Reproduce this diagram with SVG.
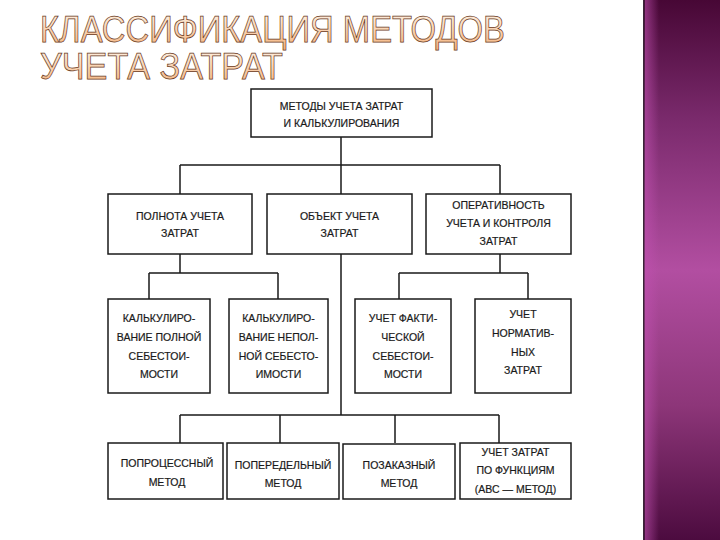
<svg xmlns="http://www.w3.org/2000/svg" width="720" height="540" viewBox="0 0 720 540">
<defs>
<linearGradient id="bar" x1="0" y1="0" x2="0" y2="1">
<stop offset="0" stop-color="#470735"/>
<stop offset="0.22" stop-color="#7a2a6c"/>
<stop offset="0.5" stop-color="#b24ea1"/>
<stop offset="0.75" stop-color="#8d3679"/>
<stop offset="1" stop-color="#4c0b3f"/>
</linearGradient>
<linearGradient id="edge" x1="0" y1="0" x2="1" y2="0">
<stop offset="0" stop-color="#c050b0" stop-opacity="0.6"/>
<stop offset="1" stop-color="#c050b0" stop-opacity="0"/>
</linearGradient>
<linearGradient id="ttl" x1="0" y1="0" x2="0" y2="1">
<stop offset="0" stop-color="#fff7ec"/>
<stop offset="1" stop-color="#f4b07a"/>
</linearGradient>
<style>
.box{fill:#fff;stroke:#1a1a1a;stroke-width:1.5}
.ln{fill:none;stroke:#1a1a1a;stroke-width:1.5}
.t{font-family:"Liberation Sans",Arial,sans-serif;font-size:10.5px;fill:#1a1a1a;stroke:#1a1a1a;stroke-width:0.2;text-anchor:middle}
.title{font-family:"Liberation Sans",Arial,sans-serif;font-size:37px;fill:url(#ttl);stroke:#6a3a1c;stroke-width:0.75}
</style>
</defs>
<rect width="720" height="540" fill="#ffffff"/>
<g id="sidebar">
<rect x="643" y="0" width="77" height="540" fill="url(#bar)"/>
<rect x="645" y="0" width="14" height="540" fill="url(#edge)"/>
<rect x="643" y="0" width="1.5" height="540" fill="#3b2438"/>
</g>
<g id="title">
<text class="title" x="40" y="42" textLength="465" lengthAdjust="spacingAndGlyphs">КЛАССИФИКАЦИЯ МЕТОДОВ</text>
<text class="title" x="40" y="79" textLength="243" lengthAdjust="spacingAndGlyphs">УЧЕТА ЗАТРАТ</text>
</g>
<g id="connectors">
<path class="ln" d="M341 137V165M180 165H500M180 165V194M341 165V194M500 165V194"/>
<path class="ln" d="M180 254V273M149 273H278M149 273V299M278 273V299"/>
<path class="ln" d="M500 254V273M399 273H528M399 273V299M528 273V299"/>
<path class="ln" d="M341 254V415M180 415H499M180 415V443M280 415V443M395 415V443M499 415V443"/>
</g>
<g id="root">
<rect class="box" x="251" y="89" width="181" height="48"/>
<text class="t" x="341.5" y="110">МЕТОДЫ УЧЕТА ЗАТРАТ</text>
<text class="t" x="341.5" y="127">И КАЛЬКУЛИРОВАНИЯ</text>
</g>
<g id="polnota">
<rect class="box" x="108" y="194" width="144" height="60"/>
<text class="t" x="180" y="220">ПОЛНОТА УЧЕТА</text>
<text class="t" x="180" y="237">ЗАТРАТ</text>
</g>
<g id="obekt">
<rect class="box" x="267" y="194" width="145" height="60"/>
<text class="t" x="339.5" y="220">ОБЪЕКТ УЧЕТА</text>
<text class="t" x="339.5" y="237">ЗАТРАТ</text>
</g>
<g id="operativnost">
<rect class="box" x="426" y="194" width="145" height="60"/>
<text class="t" x="498.5" y="209">ОПЕРАТИВНОСТЬ</text>
<text class="t" x="498.5" y="227">УЧЕТА И КОНТРОЛЯ</text>
<text class="t" x="498.5" y="245">ЗАТРАТ</text>
</g>
<g id="polnaya">
<rect class="box" x="108" y="299" width="102" height="94"/>
<text class="t" x="159" y="322">КАЛЬКУЛИРО-</text>
<text class="t" x="159" y="341">ВАНИЕ ПОЛНОЙ</text>
<text class="t" x="159" y="360">СЕБЕСТОИ-</text>
<text class="t" x="159" y="378">МОСТИ</text>
</g>
<g id="nepolnaya">
<rect class="box" x="229" y="299" width="99" height="94"/>
<text class="t" x="278.5" y="322">КАЛЬКУЛИРО-</text>
<text class="t" x="278.5" y="341">ВАНИЕ НЕПОЛ-</text>
<text class="t" x="278.5" y="360">НОЙ СЕБЕСТО-</text>
<text class="t" x="278.5" y="378">ИМОСТИ</text>
</g>
<g id="fakt">
<rect class="box" x="355" y="299" width="96" height="94"/>
<text class="t" x="403" y="322">УЧЕТ ФАКТИ-</text>
<text class="t" x="403" y="341">ЧЕСКОЙ</text>
<text class="t" x="403" y="360">СЕБЕСТОИ-</text>
<text class="t" x="403" y="378">МОСТИ</text>
</g>
<g id="norm">
<rect class="box" x="475" y="299" width="96" height="94"/>
<text class="t" x="523" y="318">УЧЕТ</text>
<text class="t" x="523" y="337">НОРМАТИВ-</text>
<text class="t" x="523" y="356">НЫХ</text>
<text class="t" x="523" y="374">ЗАТРАТ</text>
</g>
<g id="poprocess">
<rect class="box" x="108" y="443" width="115" height="56"/>
<text class="t" x="167" y="467">ПОПРОЦЕССНЫЙ</text>
<text class="t" x="167" y="486">МЕТОД</text>
</g>
<g id="poperedel">
<rect class="box" x="227" y="443" width="112" height="56"/>
<text class="t" x="283" y="469">ПОПЕРЕДЕЛЬНЫЙ</text>
<text class="t" x="283" y="487">МЕТОД</text>
</g>
<g id="pozakaz">
<rect class="box" x="343" y="444" width="112" height="55"/>
<text class="t" x="399" y="469">ПОЗАКАЗНЫЙ</text>
<text class="t" x="399" y="487">МЕТОД</text>
</g>
<g id="abc">
<rect class="box" x="460" y="443" width="111" height="56"/>
<text class="t" x="515.5" y="456">УЧЕТ ЗАТРАТ</text>
<text class="t" x="515.5" y="474">ПО ФУНКЦИЯМ</text>
<text class="t" x="515.5" y="493">(АВС — МЕТОД)</text>
</g>
</svg>
